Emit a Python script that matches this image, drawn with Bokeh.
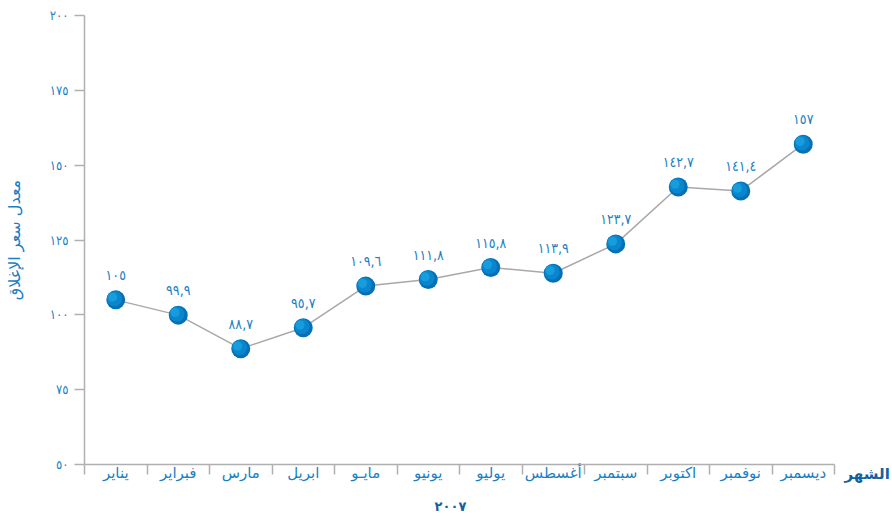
from bokeh.plotting import figure
from bokeh.models import Range1d, FixedTicker, ColumnDataSource, LinearAxis
from bokeh.transform import dodge
from bokeh.embed import file_html
from bokeh.resources import INLINE
from bokeh.core.properties import value

months = ["يناير", "فبراير", "مارس", "ابريل", "مايـو", "يونيو", "يوليو",
          "أغسطس", "سبتمبر", "اكتوبر", "نوفمبر", "ديسمبر"]
prices = [105, 99.9, 88.7, 95.7, 109.6, 111.8, 115.8, 113.9, 123.7, 142.7, 141.4, 157]
price_labels = ["١٠٥", "٩٩,٩", "٨٨,٧", "٩٥,٧", "١٠٩,٦", "١١١,٨", "١١٥,٨",
                "١١٣,٩", "١٢٣,٧", "١٤٢,٧", "١٤١,٤", "١٥٧"]
y_ticks = [50, 75, 100, 125, 150, 175, 200]
y_tick_labels = ["٥٠", "٧٥", "١٠٠", "١٢٥", "١٥٠", "١٧٥", "٢٠٠"]
x_title = "الشهر"
y_title = "معدل سعر الإغلاق"
year_title = "٢٠٠٧"

FONT = "DejaVu Sans"
DIGITS = "DejaVu Sans Condensed"
BLUE = "#1a7fc3"
DARK = "#15609c"
GREY = "#b0b0b0"

n = len(months)
xs = [i + 0.5 for i in range(n)]
src = ColumnDataSource(dict(x=xs, y=prices, lab=price_labels))

p = figure(width=892, height=516, output_backend="svg", toolbar_location=None,
           x_range=Range1d(0, n), y_range=Range1d(50, 200),
           min_border_left=84, min_border_right=57, min_border_top=15, min_border_bottom=51)
p.outline_line_color = None
p.grid.grid_line_color = None
p.background_fill_color = "white"

# x axis
xa = p.xaxis[0]
xa.ticker = FixedTicker(ticks=xs, minor_ticks=list(range(n + 1)))
xa.major_label_overrides = {x: m for x, m in zip(xs, months)}
xa.major_tick_line_color = None
xa.major_tick_out = 0
xa.major_tick_in = 0
xa.minor_tick_out = 10
xa.minor_tick_in = 0
xa.minor_tick_line_color = GREY
xa.minor_tick_line_width = 1.5
xa.axis_line_color = GREY
xa.axis_line_width = 1.5
xa.major_label_text_font = FONT
xa.major_label_text_font_size = "15px"
xa.major_label_text_color = BLUE
xa.major_label_standoff = -11
xa.axis_label = year_title + "\u00a0" * 4
xa.axis_label_text_font = FONT
xa.axis_label_text_font_size = "13px"
xa.axis_label_text_font_style = "bold"
xa.axis_label_text_color = DARK
xa.axis_label_standoff = 14

# y axis
ya = p.yaxis[0]
ya.ticker = FixedTicker(ticks=y_ticks)
ya.major_label_overrides = {t: l for t, l in zip(y_ticks, y_tick_labels)}
ya.minor_tick_line_color = None
ya.major_tick_out = 10
ya.major_tick_in = 0
ya.major_tick_line_color = GREY
ya.major_tick_line_width = 1.5
ya.axis_line_color = GREY
ya.axis_line_width = 1.5
ya.major_label_text_font = DIGITS
ya.major_label_text_font_size = "13px"
ya.major_label_text_color = BLUE
ya.major_label_standoff = 6
ya.axis_label = y_title
ya.axis_label_text_font = FONT
ya.axis_label_text_font_size = "16px"
ya.axis_label_text_font_style = "normal"
ya.axis_label_text_color = BLUE
ya.axis_label_standoff = 23

# right-hand title for the x axis ("الشهر"), as the single label of a bare axis
ra = LinearAxis(ticker=FixedTicker(ticks=[50], minor_ticks=[]),
                major_label_overrides={50: "\n" + x_title})
ra.axis_line_color = None
ra.major_tick_line_color = None
ra.minor_tick_line_color = None
ra.major_tick_out = 0
ra.major_tick_in = 0
ra.major_label_standoff = 10
ra.major_label_text_font = FONT
ra.major_label_text_font_size = "15px"
ra.major_label_text_font_style = "bold"
ra.major_label_text_color = DARK
ra.major_label_text_baseline = "middle"
ra.major_label_text_line_height = 1.0
p.add_layout(ra, "right")

# line and markers
p.line("x", "y", source=src, line_color="#a8a8a8", line_width=1.5)
p.scatter("x", "y", source=src, size=19, fill_color="#0670b6", line_color=None)
p.scatter(dodge("x", -0.02, range=p.x_range), dodge("y", 0.4, range=p.y_range), source=src,
          size=15, fill_color="#0a8ad0", line_color=None, fill_alpha=0.9)
p.scatter(dodge("x", -0.05, range=p.x_range), dodge("y", 0.9, range=p.y_range), source=src,
          size=9, fill_color="#1fa7e3", line_color=None, fill_alpha=0.7)

p.text("x", "y", text="lab", source=src, y_offset=-25, text_align="center",
       text_baseline="middle", text_font=value(DIGITS), text_font_size="14px",
       text_color=BLUE)

open("out.html", "w").write(file_html(p, INLINE))
